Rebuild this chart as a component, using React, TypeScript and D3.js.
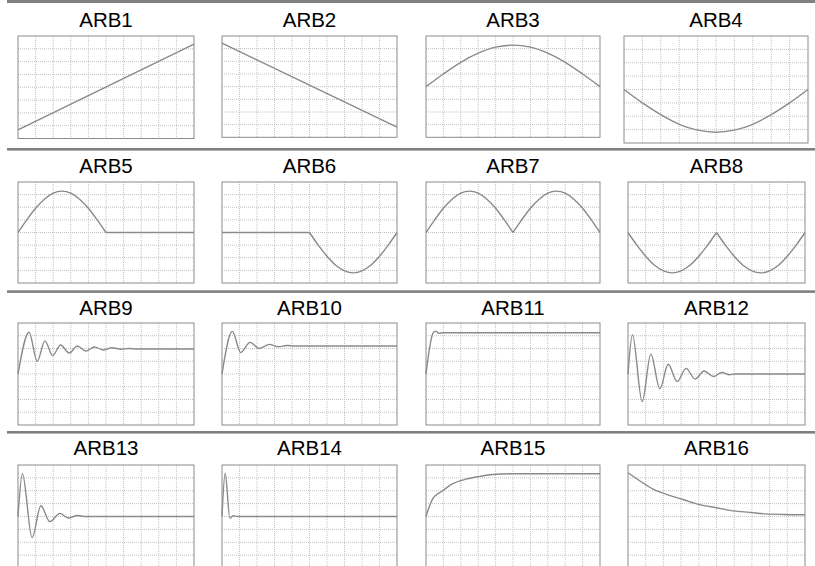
import React from "react";
import * as d3 from "d3";

type Pt = [number, number];
type Wave = Pt[][];

// ---------- data (normalized: x in [0,1], y in [-1,1] of panel half-height) ----------
const titles = [
  "ARB1", "ARB2", "ARB3", "ARB4",
  "ARB5", "ARB6", "ARB7", "ARB8",
  "ARB9", "ARB10", "ARB11", "ARB12",
  "ARB13", "ARB14", "ARB15", "ARB16",
];

const arb1: Wave = [[[0, -0.83], [1, 0.84]]];
const arb2: Wave = [[[0, 0.86], [1, -0.8]]];
const arb3: Wave = [[
  [0, 0], [0.1, 0.25], [0.2, 0.48], [0.3, 0.66], [0.4, 0.78], [0.5, 0.82],
  [0.6, 0.78], [0.7, 0.66], [0.8, 0.48], [0.9, 0.25], [1, 0],
]];
const arb4: Wave = [[
  [0, 0], [0.1, -0.25], [0.2, -0.47], [0.3, -0.65], [0.4, -0.76], [0.5, -0.8],
  [0.6, -0.76], [0.7, -0.65], [0.8, -0.47], [0.9, -0.25], [1, 0],
]];
const arb5: Wave = [
  [[0, 0], [0.05, 0.25], [0.1, 0.48], [0.15, 0.66], [0.2, 0.78], [0.25, 0.82],
   [0.3, 0.78], [0.35, 0.66], [0.4, 0.48], [0.45, 0.25], [0.5, 0]],
  [[0.5, 0], [1, 0]],
];
const arb6: Wave = [
  [[0, 0], [0.5, 0]],
  [[0.5, 0], [0.55, -0.25], [0.6, -0.47], [0.65, -0.65], [0.7, -0.76], [0.75, -0.8],
   [0.8, -0.76], [0.85, -0.65], [0.9, -0.47], [0.95, -0.25], [1, 0]],
];
const arb7: Wave = [
  [[0, 0], [0.05, 0.25], [0.1, 0.48], [0.15, 0.66], [0.2, 0.78], [0.25, 0.82],
   [0.3, 0.78], [0.35, 0.66], [0.4, 0.48], [0.45, 0.25], [0.5, 0]],
  [[0.5, 0], [0.55, 0.25], [0.6, 0.48], [0.65, 0.66], [0.7, 0.78], [0.75, 0.82],
   [0.8, 0.78], [0.85, 0.66], [0.9, 0.48], [0.95, 0.25], [1, 0]],
];
const arb8: Wave = [
  [[0, 0], [0.05, -0.25], [0.1, -0.47], [0.15, -0.65], [0.2, -0.76], [0.25, -0.8],
   [0.3, -0.76], [0.35, -0.65], [0.4, -0.47], [0.45, -0.25], [0.5, 0]],
  [[0.5, 0], [0.55, -0.25], [0.6, -0.47], [0.65, -0.65], [0.7, -0.76], [0.75, -0.8],
   [0.8, -0.76], [0.85, -0.65], [0.9, -0.47], [0.95, -0.25], [1, 0]],
];
const arb9: Wave = [[
  [0, 0], [0.063, 0.82], [0.109, 0.25], [0.153, 0.65], [0.197, 0.36], [0.242, 0.57],
  [0.291, 0.41], [0.337, 0.55], [0.385, 0.45], [0.435, 0.53], [0.485, 0.47],
  [0.535, 0.515], [0.585, 0.485], [0.63, 0.5], [0.68, 0.49], [1, 0.49],
]];
const arb10: Wave = [[
  [0, 0], [0.059, 0.835], [0.107, 0.42], [0.16, 0.62], [0.214, 0.5], [0.271, 0.58],
  [0.322, 0.535], [0.37, 0.56], [0.42, 0.55], [1, 0.55],
]];
const arb11: Wave = [[
  [0, 0], [0.02, 0.5], [0.04, 0.8], [0.055, 0.84], [0.075, 0.8], [0.1, 0.81], [1, 0.81],
]];
const arb12: Wave = [[
  [0, 0], [0.025, 0.77], [0.08, -0.54], [0.129, 0.39], [0.18, -0.29], [0.227, 0.19],
  [0.278, -0.15], [0.328, 0.11], [0.379, -0.1], [0.43, 0.06], [0.483, -0.05],
  [0.53, 0.03], [0.575, -0.015], [0.6, 0], [1, 0],
]];
const arb13: Wave = [[
  [0, 0], [0.025, 0.83], [0.08, -0.41], [0.13, 0.21], [0.181, -0.1], [0.238, 0.06],
  [0.286, -0.03], [0.337, 0.02], [0.383, 0], [1, 0],
]];
const arb14: Wave = [[
  [0, 0], [0.018, 0.84], [0.045, -0.03], [0.065, 0.015], [0.09, 0], [1, 0],
]];
const arb15: Wave = [[
  [0, 0], [0.02, 0.2], [0.04, 0.35], [0.1, 0.51], [0.139, 0.61], [0.235, 0.73],
  [0.312, 0.78], [0.399, 0.82], [0.5, 0.83], [1, 0.83],
]];
const arb16: Wave = [[
  [0, 0.85], [0.085, 0.65], [0.142, 0.53], [0.217, 0.43], [0.311, 0.33], [0.405, 0.23],
  [0.5, 0.17], [0.594, 0.11], [0.688, 0.08], [0.782, 0.05], [0.876, 0.04], [1, 0.035],
]];

const waves: Wave[] = [
  arb1, arb2, arb3, arb4, arb5, arb6, arb7, arb8,
  arb9, arb10, arb11, arb12, arb13, arb14, arb15, arb16,
];

// ---------- layout ----------
const W = 815;
const H = 566;
const colLeft = [18, 222, 426, 628];
const colRight = [194, 397, 600, 805];
const rowTop = [36, 182, 323, 465];
const rowBottom = [138.5, 283, 425, 568];
const titleBaseline = [27, 173, 315, 455];
const sepY = [0, 148, 290.3, 431];
const NX = 10;
const NY = 8;

function boxFor(i: number) {
  const r = Math.floor(i / 4);
  const c = i % 4;
  if (i === 3) return { x0: 624, x1: 808, y0: 36, y1: 143 };
  if (i === 1 || i === 2) return { x0: colLeft[c], x1: colRight[c], y0: rowTop[r], y1: 137.3 };
  return { x0: colLeft[c], x1: colRight[c], y0: rowTop[r], y1: rowBottom[r] };
}

const Panel: React.FC<{ i: number }> = ({ i }) => {
  const b = boxFor(i);
  const r = Math.floor(i / 4);
  const x = d3.scaleLinear().domain([0, 1]).range([b.x0, b.x1]);
  const y = d3.scaleLinear().domain([-1, 1]).range([b.y1, b.y0]);
  const line = d3
    .line<Pt>()
    .x((d) => x(d[0]))
    .y((d) => y(d[1]))
    .curve(d3.curveMonotoneX);
  const gx = d3.range(1, NX).map((k) => k / NX);
  const gy = d3.range(1, NY).map((k) => -1 + (2 * k) / NY);
  return (
    <g>
      <text
        x={(b.x0 + b.x1) / 2}
        y={titleBaseline[r]}
        textAnchor="middle"
        fontFamily="'Liberation Sans', Arial, Helvetica, sans-serif"
        fontSize={20.5}
        fill="#000"
      >
        {titles[i]}
      </text>
      {gx.map((v) => (
        <line
          key={"gx" + v}
          x1={x(v)}
          x2={x(v)}
          y1={b.y0}
          y2={b.y1}
          stroke="#c2c2c2"
          strokeWidth={1}
          strokeDasharray="1 1"
        />
      ))}
      {gy.map((v) => (
        <line
          key={"gy" + v}
          x1={b.x0}
          x2={b.x1}
          y1={y(v)}
          y2={y(v)}
          stroke="#c2c2c2"
          strokeWidth={1}
          strokeDasharray="1 1"
        />
      ))}
      <rect
        x={b.x0}
        y={b.y0}
        width={b.x1 - b.x0}
        height={b.y1 - b.y0}
        fill="none"
        stroke="#8c8c8c"
        strokeWidth={1}
      />
      {waves[i].map((seg, k) => (
        <path
          key={k}
          d={line(seg) || ""}
          fill="none"
          stroke="#8a8a8a"
          strokeWidth={1.4}
          strokeLinejoin="round"
        />
      ))}
    </g>
  );
};

export default function App() {
  return (
    <svg
      width={W}
      height={H}
      viewBox={`0 0 ${W} ${H}`}
      style={{ position: "absolute", left: 0, top: 0, background: "#fff", overflow: "hidden" }}
    >
      <rect x={0} y={0} width={W} height={H} fill="#fff" />
      {sepY.map((v, k) => (
        <rect key={"s" + k} x={7} y={v} width={W - 7} height={k === 0 ? 3 : 2.6} fill="#808080" />
      ))}
      {titles.map((_, i) => (
        <Panel key={i} i={i} />
      ))}
    </svg>
  );
}
